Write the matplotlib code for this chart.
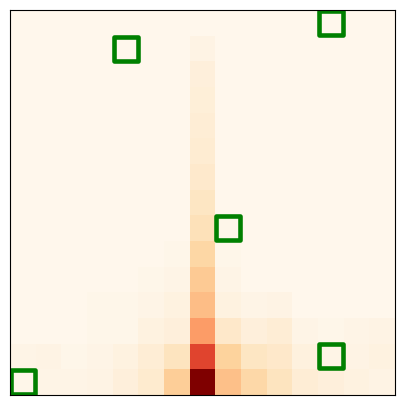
import matplotlib
matplotlib.use("Agg")
import matplotlib.pyplot as plt
import numpy as np

# 15x15 intensity grid, top row first
grid = np.array([
    [0, 0, 0, 0, 0, 0, 0, 0.00, 0, 0, 0, 0, 0, 0, 0],
    [0, 0, 0, 0, 0, 0, 0, 0.03, 0, 0, 0, 0, 0, 0, 0],
    [0, 0, 0, 0, 0, 0, 0, 0.06, 0, 0, 0, 0, 0, 0, 0],
    [0, 0, 0, 0, 0, 0, 0, 0.07, 0, 0, 0, 0, 0, 0, 0],
    [0, 0, 0, 0, 0, 0, 0, 0.08, 0, 0, 0, 0, 0, 0, 0],
    [0, 0, 0, 0, 0, 0, 0, 0.09, 0, 0, 0, 0, 0, 0, 0],
    [0, 0, 0, 0, 0, 0, 0, 0.11, 0, 0, 0, 0, 0, 0, 0],
    [0, 0, 0, 0, 0, 0, 0, 0.14, 0, 0, 0, 0, 0, 0, 0],
    [0, 0, 0, 0, 0, 0, 0, 0.17, 0.01, 0, 0, 0, 0, 0, 0],
    [0, 0, 0, 0, 0, 0, 0.01, 0.23, 0.01, 0, 0, 0, 0, 0, 0],
    [0, 0, 0, 0, 0, 0.01, 0.02, 0.30, 0.02, 0, 0, 0, 0, 0, 0],
    [0, 0, 0, 0.01, 0.01, 0.02, 0.04, 0.36, 0.04, 0.02, 0.03, 0, 0, 0, 0],
    [0, 0, 0, 0.01, 0.01, 0.04, 0.06, 0.46, 0.12, 0.06, 0.08, 0.02, 0.01, 0.02, 0.03],
    [0.02, 0.03, 0.01, 0.02, 0.04, 0.08, 0.15, 0.70, 0.25, 0.14, 0.12, 0.05, 0.02, 0.03, 0.04],
    [0.01, 0.02, 0.02, 0.03, 0.06, 0.10, 0.28, 1.00, 0.35, 0.22, 0.15, 0.08, 0.06, 0.04, 0.03],
])

# highlighted cells (row, col)
box_rows = [0, 1, 8, 13, 14]
box_cols = [12, 4, 8, 12, 0]

fig = plt.figure(figsize=(4.05, 4.05), dpi=100)
ax = fig.add_axes([0.025, 0.025, 0.95, 0.95])
ax.imshow(grid, cmap='OrRd', vmin=0, vmax=1, interpolation='nearest', aspect='auto')
ax.scatter(box_cols, box_rows, marker='s', s=300, facecolors='none',
           edgecolors='green', linewidths=3.3)
ax.set_xlim(-0.5, 14.5)
ax.set_ylim(14.5, -0.5)
ax.set_xticks([])
ax.set_yticks([])

fig.savefig('out.png', dpi=100)
